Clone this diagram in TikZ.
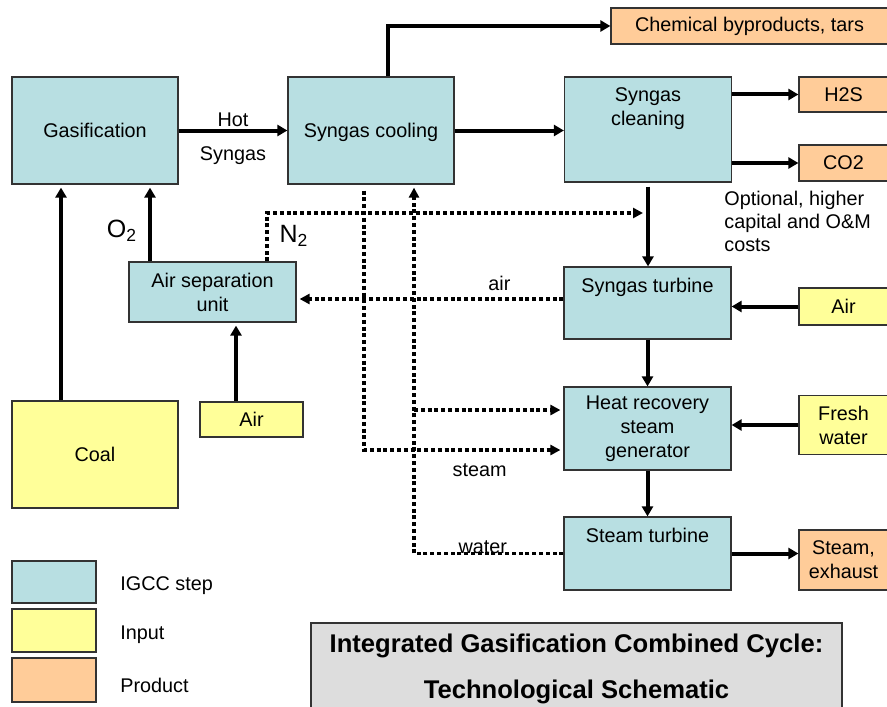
\documentclass[tikz,border=0pt]{standalone}
\usepackage{fontspec}
\setmainfont{Liberation Sans}
\usetikzlibrary{arrows.meta,positioning,calc}

\definecolor{stepcol}{HTML}{B8DFE2}
\definecolor{incol}{HTML}{FFFF99}
\definecolor{outcol}{HTML}{FFCC99}
\definecolor{titlecol}{HTML}{DDDDDD}

\begin{document}
\begin{tikzpicture}[
    x=0.5pt, y=-0.5pt,
    font=\fontsize{9.9}{12}\selectfont,
    box/.style={rectangle, draw=black!80, line width=0.6pt, align=center, inner sep=0pt},
    stepbox/.style={box, fill=stepcol},
    inbox/.style={box, fill=incol},
    outbox/.style={box, fill=outcol},
    toptext/.style={anchor=north, align=center, inner sep=0pt, yshift=-5.5pt},
    arrow/.style={-{Triangle[length=5pt,width=5.5pt]}, line width=2pt},
    dots/.style={line width=1.6pt, dash pattern=on 2pt off 1.4pt},
    dotarrow/.style={dots, -{Triangle[length=5pt,width=5pt]}, shorten >=1.5pt}
]
    \useasboundingbox (0,0) rectangle (887,706);

    % process steps
    \node[stepbox, minimum width=83pt, minimum height=53.5pt] (gas) at (95,130.5) {Gasification};
    \node[stepbox, minimum width=83pt, minimum height=53.5pt, text depth=0pt] (cool) at (371,130.5) {Syngas cooling};
    \node[stepbox, minimum width=83.5pt, minimum height=52.5pt, label={[toptext]north:Syngas\\cleaning}] (clean) at (648,129.5) {};
    \node[stepbox, minimum width=83.5pt, minimum height=36pt, label={[toptext]north:Syngas turbine}] (turb) at (647.5,303) {};
    \node[stepbox, minimum width=83.5pt, minimum height=41.5pt] (hrsg) at (647.5,428.5) {Heat recovery\\steam\\generator};
    \node[stepbox, minimum width=83.5pt, minimum height=36.5pt, label={[toptext]north:Steam turbine}] (st) at (647.5,553.5) {};
    \node[stepbox, minimum width=83.5pt, minimum height=30pt] (asu) at (212.5,292) {Air separation\\unit};

    % inputs
    \node[inbox, minimum width=83pt, minimum height=53.5pt] (coal) at (95,454.5) {Coal};
    \node[inbox, minimum width=51.5pt, minimum height=17.5pt] (airL) at (251.5,419.5) {Air};
    \node[inbox, minimum width=44.5pt, minimum height=18.5pt] (airR) at (843.5,306.5) {Air};
    \node[inbox, minimum width=44.5pt, minimum height=29.5pt] (fresh) at (843.5,425) {Fresh\\water};

    % products
    \node[outbox, minimum width=138.5pt, minimum height=18pt] (chem) at (749.5,26) {Chemical byproducts, tars};
    \node[outbox, minimum width=44.5pt, minimum height=17.5pt] (h2s) at (843.5,94.5) {H2S};
    \node[outbox, minimum width=44.5pt, minimum height=18pt] (co2) at (843.5,163) {CO2};
    \node[outbox, minimum width=44.5pt, minimum height=30pt] (exh) at (843.5,560) {Steam,\\exhaust};
    \node[anchor=west, align=left, inner sep=0pt, font=\fontsize{9.9}{11.5}\selectfont] (opt) at (724,221) {Optional, higher\\capital and O\&M\\costs};

    % gas labels
    \node[font=\fontsize{12.5}{14}\selectfont] (o2lab) at (122,231) {O\textsubscript{2}};
    \node[font=\fontsize{12.5}{14}\selectfont] (n2lab) at (294,236) {N\textsubscript{2}};

    % connector ends
    \coordinate (o2foot) at ([xshift=-31.25pt]asu.north);
    \coordinate (n2foot) at ([xshift=27.25pt]asu.north);
    \coordinate (n2in) at (646,213);
    \coordinate (coalfoot) at ([xshift=-17pt]coal.north);
    \coordinate (airfoot) at ([xshift=-7.75pt]airL.north);
    \coordinate (chemfoot) at ([xshift=8.5pt]cool.north);
    \coordinate (steamtop) at ([xshift=-3.5pt]cool.south);
    \coordinate (watertop) at ([xshift=21.5pt]cool.south);
    \coordinate (turbair) at ([yshift=2pt]turb.west);
    \coordinate (hrsgup) at ([yshift=9.25pt]hrsg.west);
    \coordinate (hrsglow) at ([yshift=-10.75pt]hrsg.west);

    % main flow
    \draw[arrow] (gas) -- node[yshift=5.5pt] (hot) {Hot} node[yshift=-12.5pt] (hotsyn) {Syngas} (cool);
    \draw[arrow] (cool.east) -- (cool.east -| clean.west);
    \draw[arrow] (chemfoot) |- (chem.west);
    \draw[arrow] (clean.east |- h2s) -- (h2s.west);
    \draw[arrow] (clean.east |- co2) -- (co2.west);
    \draw[arrow, shorten <=2pt] (clean.south) -- (clean.south |- turb.north);
    \draw[arrow] (airR.west) -- (airR.west -| turb.east);
    \draw[arrow] (turb) -- (hrsg);
    \draw[arrow] (fresh.west) -- (fresh.west -| hrsg.east);
    \draw[arrow] (hrsg) -- (st);
    \draw[arrow] (st.east) -- (st.east -| exh.west);
    \draw[arrow, shorten >=1.5pt] (o2foot) -- (o2foot |- gas.south);
    \draw[arrow, shorten >=1.5pt] (coalfoot) -- (coalfoot |- gas.south);
    \draw[arrow, shorten >=1.5pt] (airfoot) -- (airfoot |- asu.south);

    % recycled streams
    \draw[dotarrow] (n2foot) |- (n2in);
    \draw[dotarrow] (turbair) -- node[pos=0.24, yshift=8pt] (airlab) {air} (turbair -| asu.east);
    \draw[dotarrow, shorten <=3pt] (steamtop) |- node[pos=0.79, yshift=-10pt] (steamlab) {steam} (hrsglow);
    \draw[dotarrow] (st.west) -| node[pos=0.27, yshift=3pt] (waterlab) {water} (watertop);
    \draw[dotarrow] (hrsgup -| watertop) -- (hrsgup);

    % legend
    \node[stepbox, minimum width=42pt, minimum height=21pt] (lgstep) at (54,582) {};
    \node[inbox, minimum width=42pt, minimum height=21.5pt] (lgin) at (54,630.5) {};
    \node[outbox, minimum width=42pt, minimum height=22pt] (lgout) at (54,680) {};
    \node[anchor=west, inner sep=0pt] (lgsteptxt) at (120,586) {IGCC step};
    \node[anchor=west, inner sep=0pt] (lgintxt) at (120,635) {Input};
    \node[anchor=west, inner sep=0pt] (lgouttxt) at (120,685) {Product};

    % title
    \node[box, fill=titlecol, minimum width=265.5pt, minimum height=46pt, font=\bfseries\fontsize{12.8}{23}\selectfont] (title) at (576.5,669) {Integrated Gasification Combined Cycle:\\Technological Schematic};
\end{tikzpicture}
\end{document}
